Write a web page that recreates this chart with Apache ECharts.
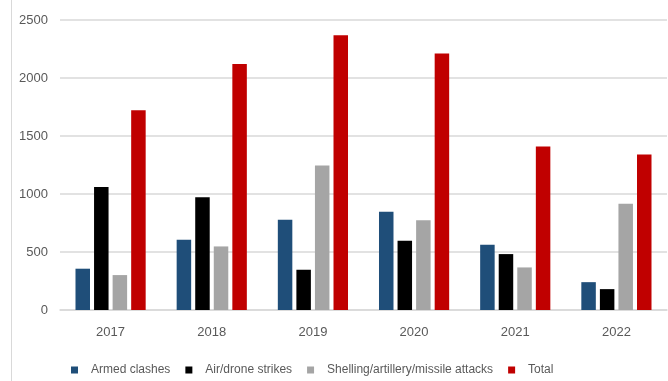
<!DOCTYPE html>
<html>
<head>
<meta charset="utf-8">
<script src="https://cdn.jsdelivr.net/npm/echarts@6/dist/echarts.min.js"></script>
<style>
  html, body { margin: 0; padding: 0; background: #fff; }
  #chart { width: 668px; height: 381px; }
</style>
</head>
<body>
<div id="chart"></div>
<script>
// Yearly counts of violent events by type
const years = ['2017', '2018', '2019', '2020', '2021', '2022'];
const armedClashes = [356, 606, 779, 848, 563, 240];
const airDroneStrikes = [1061, 972, 347, 597, 482, 180];
const shellingAttacks = [301, 548, 1245, 773, 367, 917];
const totals = [1723, 2120, 2368, 2212, 1409, 1340];
const yTicks = [0, 500, 1000, 1500, 2000, 2500];

const seriesNames = ['Armed clashes', 'Air/drone strikes', 'Shelling/artillery/missile attacks', 'Total'];
const seriesColors = ['#1F4E79', '#000000', '#A5A5A5', '#C00000'];
const seriesData = [armedClashes, airDroneStrikes, shellingAttacks, totals];

const font = '"Liberation Sans", Arial, sans-serif';
const textColor = '#595959';
const gridColor = '#D9D9D9';

const chart = echarts.init(document.getElementById('chart'), null, { renderer: 'canvas' });

chart.setOption({
  animation: false,
  backgroundColor: '#ffffff',
  grid: { left: 60, right: 1, top: 20, bottom: 71, containLabel: false },
  legend: {
    data: seriesNames,
    left: 71,
    top: 364,
    padding: 0,
    itemWidth: 7,
    itemHeight: 7,
    itemGap: 15,
    icon: 'rect',
    textStyle: { color: textColor, fontFamily: font, fontSize: 12, padding: [0, 0, 0, 8] }
  },
  xAxis: {
    type: 'category',
    data: years,
    axisTick: { show: false },
    axisLine: { lineStyle: { color: gridColor, width: 1.5 } },
    axisLabel: { color: textColor, fontFamily: font, fontSize: 13, margin: 16 }
  },
  yAxis: {
    type: 'value',
    min: yTicks[0],
    max: yTicks[yTicks.length - 1],
    interval: yTicks[1] - yTicks[0],
    axisLine: { show: false },
    axisTick: { show: false },
    splitLine: { lineStyle: { color: gridColor, width: 1.5 } },
    axisLabel: { color: textColor, fontFamily: font, fontSize: 13, margin: 12, formatter: v => String(v) }
  },
  graphic: [{
    type: 'line',
    shape: { x1: 11.5, y1: 0, x2: 11.5, y2: 381 },
    style: { stroke: gridColor, lineWidth: 1 }
  }],
  series: seriesNames.map((name, i) => ({
    name,
    type: 'bar',
    data: seriesData[i],
    barWidth: 14.5,
    barGap: '28%',
    itemStyle: { color: seriesColors[i] }
  }))
});
</script>
</body>
</html>
